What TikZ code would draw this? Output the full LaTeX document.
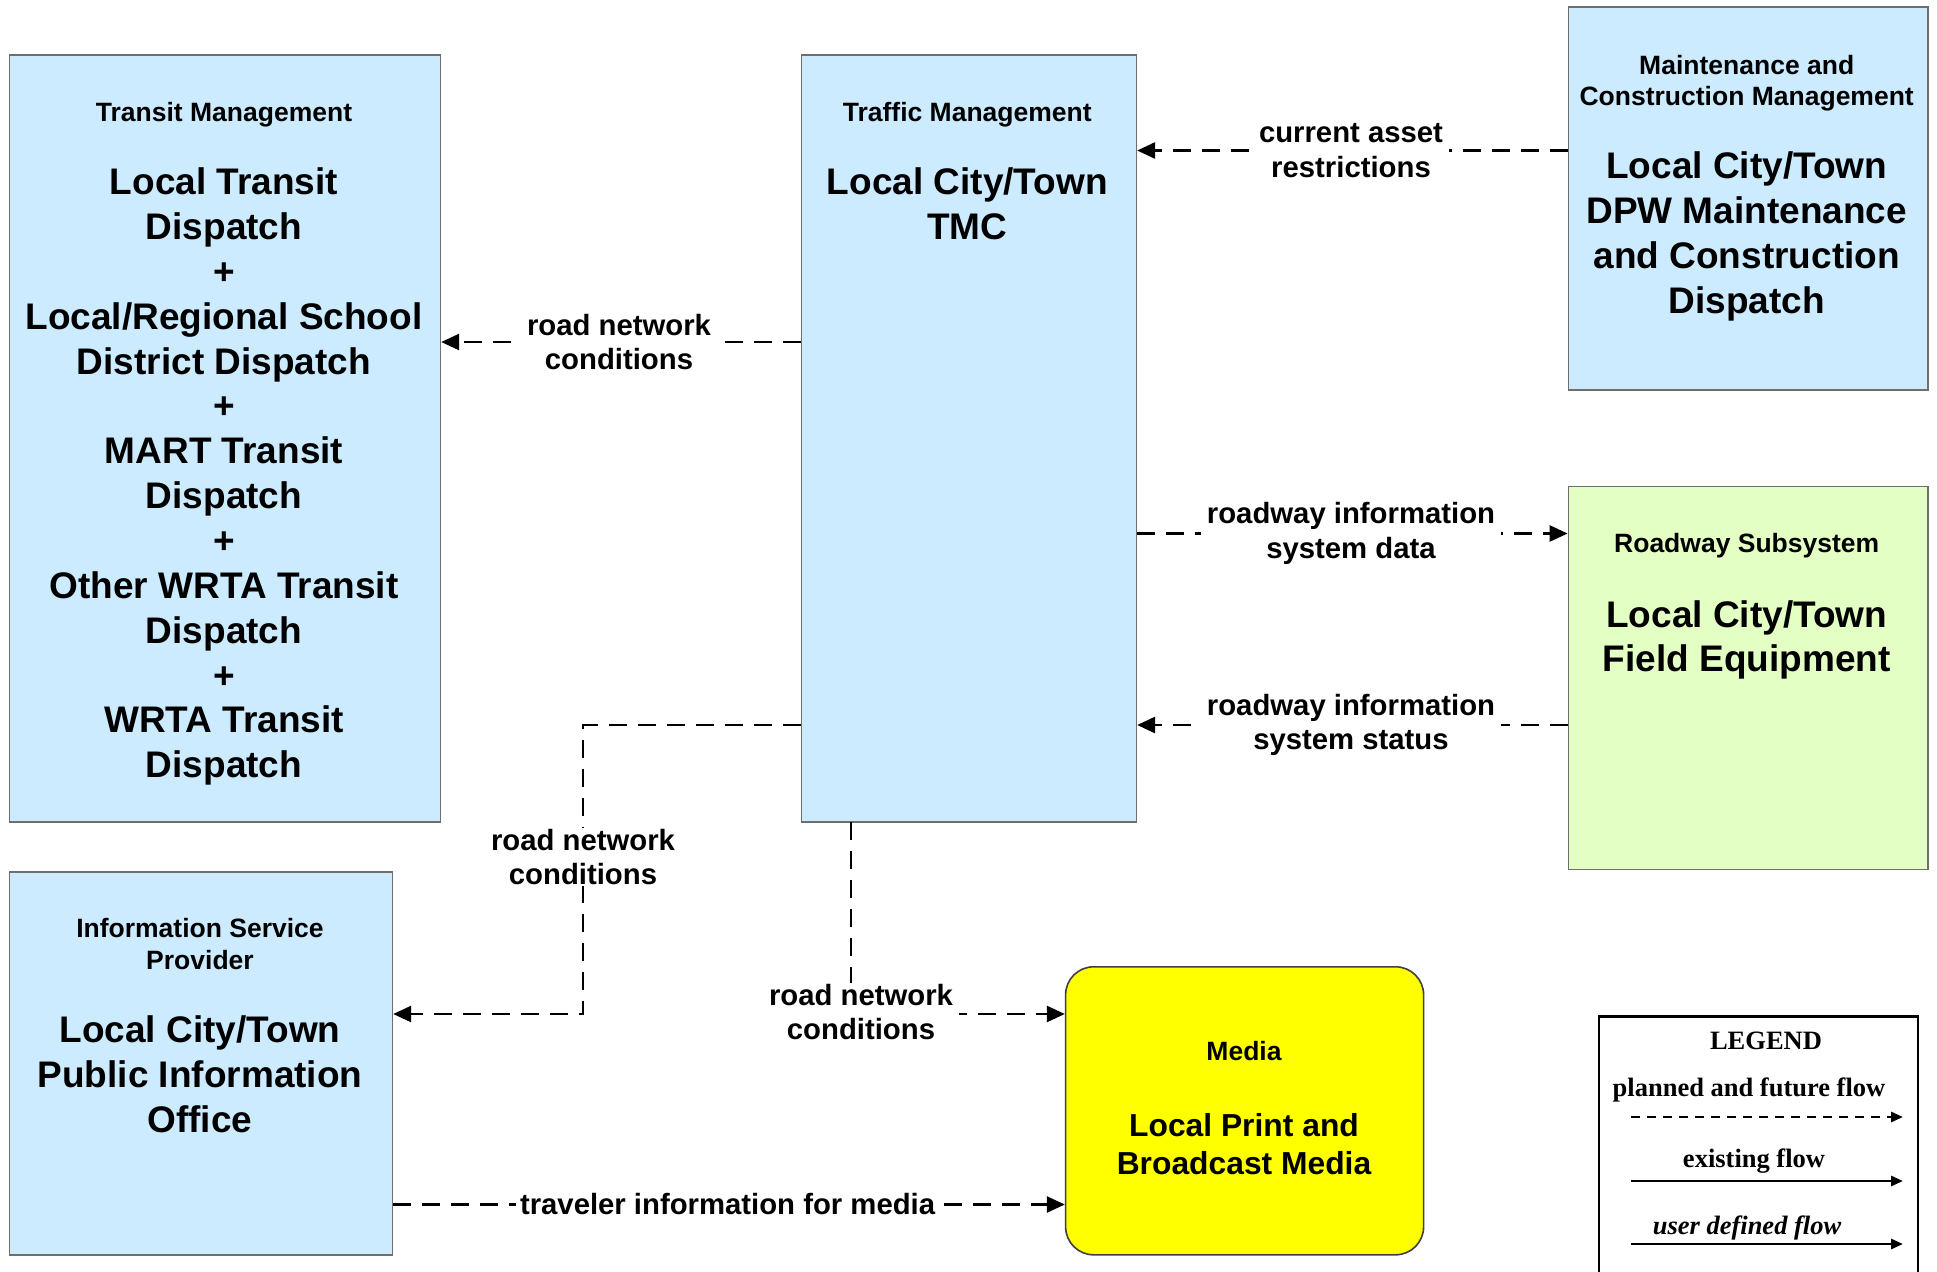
\documentclass[tikz,border=0pt]{standalone}
\usepackage{fontspec}
\setmainfont{Liberation Sans}
\newfontfamily\legendfont{Liberation Serif}
\usetikzlibrary{arrows.meta}
\definecolor{tblue}{RGB}{204,235,255}
\definecolor{tgreen}{RGB}{227,255,196}
\definecolor{tyellow}{RGB}{255,255,0}
\definecolor{boxgray}{RGB}{110,110,110}
\tikzset{
  box/.style={draw=boxgray, line width=1.6pt, fill=tblue, inner sep=0pt, anchor=north west},
  hdr/.style={align=center, font=\bfseries\fontsize{26.5}{31.8}\selectfont, inner sep=0pt},
  mainx/.style={align=center, font=\bfseries\fontsize{37}{44.85}\selectfont, inner sep=0pt},
  lbl/.style={align=center, font=\bfseries\fontsize{29.3}{34.6}\selectfont, fill=white, inner xsep=6pt, inner ysep=1pt},
  flow/.style={line width=2.6pt, dash pattern=on 18pt off 11pt, -{Triangle[length=18pt,width=16pt]}},
  leg/.style={font=\legendfont\bfseries\fontsize{26.5}{30}\selectfont, inner sep=0pt},
  legline/.style={line width=2.8pt, -{Triangle[length=12pt,width=10pt]}}
}
\begin{document}
\begin{tikzpicture}[x=1pt,y=-1pt]
\useasboundingbox (0,0) rectangle (1937,1271);
\clip (0,0) rectangle (1937,1271);
\fill[white] (0,0) rectangle (1937,1271);

% boxes
\node[box, minimum width=431pt, minimum height=767pt] (transit) at (8.6,54.4) {};
\node[box, minimum width=335pt, minimum height=767pt] (tmc) at (800.5,54.4) {};
\node[box, minimum width=359.4pt, minimum height=383pt] (maint) at (1567.6,6.2) {};
\node[box, fill=tgreen, minimum width=359.4pt, minimum height=383pt] (road) at (1567.6,485.5) {};
\node[box, minimum width=383pt, minimum height=383pt] (isp) at (8.6,871) {};
\node[box, fill=tyellow, draw=black!75, rounded corners=28pt, minimum width=358pt, minimum height=288pt] (media) at (1064.8,966) {};

% box texts
\node[hdr] (transitH) at (224,115) {Transit Management};
\node[mainx] (transitM) at (224,476.7) {Local Transit\\Dispatch\\+\\Local/Regional School\\District Dispatch\\+\\MART Transit\\Dispatch\\+\\Other WRTA Transit\\Dispatch\\+\\WRTA Transit\\Dispatch};
\node[hdr] (tmcH) at (967.3,115) {Traffic Management};
\node[mainx] (tmcM) at (967.3,203.8) {Local City/Town\\TMC};
\node[hdr] (maintH) at (1746.7,83.3) {Maintenance and\\Construction Management};
\node[mainx] (maintM) at (1746.7,236.5) {Local City/Town\\DPW Maintenance\\and Construction\\Dispatch};
\node[hdr] (roadH) at (1746.7,546) {Roadway Subsystem};
\node[mainx] (roadM) at (1746.7,639.9) {Local City/Town\\Field Equipment};
\node[hdr] (ispH) at (200,944) {Information Service\\Provider};
\node[mainx] (ispM) at (200,1074) {Local City/Town\\Public Information\\Office};
\node[hdr] (mediaH) at (1244,1051) {Media};
\node[align=center, font=\bfseries\fontsize{31.8}{38}\selectfont, inner sep=0pt] (mediaM) at (1244,1144) {Local Print and\\Broadcast Media};

% connector coordinates
\coordinate (c1) at (1351,150.5);
\coordinate (c2) at (619,342);
\coordinate (c3) at (1351,533.5);
\coordinate (c4) at (1351,725);
\coordinate (c5) at (583,857);
\coordinate (b5a) at (583,725);
\coordinate (b5b) at (583,1014);
\coordinate (c6) at (861,1012);
\coordinate (b6a) at (851,821.5);
\coordinate (b6b) at (851,1014);
\coordinate (c7) at (727.6,1204.5);

% connectors
\draw[flow] (maint.west |- c1) -- (tmc.east |- c1);
\draw[flow] (tmc.west |- c2) -- (transit.east |- c2);
\draw[flow] (tmc.east |- c3) -- (road.west |- c3);
\draw[flow] (road.west |- c4) -- (tmc.east |- c4);
\draw[flow] (tmc.west |- b5a) -- (b5a) -- (b5b) -- (isp.east |- b5b);
\draw[flow] (b6a) -- (b6b) -- (media.west |- b6b);
\draw[flow] (isp.east |- c7) -- (media.west |- c7);

% labels
\node[lbl] (l1) at (c1) {current asset\\restrictions};
\node[lbl] (l2) at (c2) {road network\\conditions};
\node[lbl] (l3) at (c3) {roadway information\\system data};
\node[lbl] (l4) at (c4) {roadway information\\system status};
\node[lbl] (l5) at (c5) {road network\\conditions};
\node[lbl] (l6) at (c6) {road network\\conditions};
\node[lbl, inner xsep=4pt] (l7) at (c7) {traveler information for media};

% legend
\draw[line width=2.6pt] (1599,1290) -- (1599,1016.5) -- (1918,1016.5) -- (1918,1290);
\node[leg] (legT) at (1766,1041) {LEGEND};
\node[leg] (legP) at (1749,1090) {planned and future flow};
\coordinate (p1) at (1631,1117);
\coordinate (p2) at (1903,1117);
\draw[legline, dash pattern=on 9pt off 7pt] (p1) -- (p2);
\node[leg] (legE) at (1754,1161) {existing flow};
\coordinate (e1) at (1631,1181);
\coordinate (e2) at (1903,1181);
\draw[legline] (e1) -- (e2);
\node[leg, font=\legendfont\bfseries\itshape\fontsize{26.5}{30}\selectfont] (legU) at (1747,1228) {user defined flow};
\coordinate (u1) at (1631,1244);
\coordinate (u2) at (1903,1244);
\draw[legline] (u1) -- (u2);
\end{tikzpicture}
\end{document}
